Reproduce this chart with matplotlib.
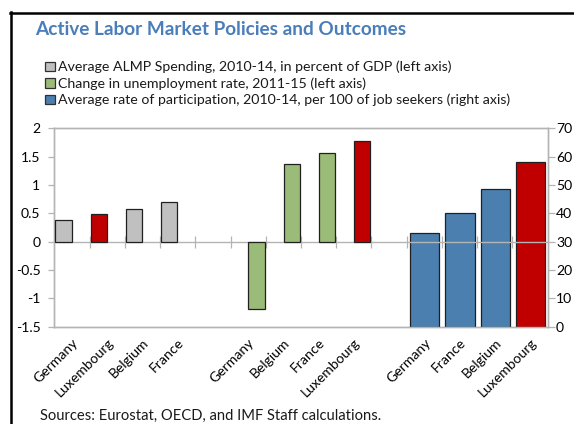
import matplotlib
matplotlib.use('Agg')
import matplotlib.pyplot as plt
from matplotlib.patches import Rectangle
from matplotlib.lines import Line2D
from matplotlib.ticker import FixedLocator, FixedFormatter

plt.rcParams['axes.unicode_minus'] = False
FONT = ['Lato', 'DejaVu Sans']
plt.rcParams['font.family'] = FONT

# ---------------- data ----------------
categories = ['Germany', 'Luxembourg', 'Belgium', 'France', '',
              'Germany', 'Belgium', 'France', 'Luxembourg', '',
              'Germany', 'France', 'Belgium', 'Luxembourg']
spending_idx = [0, 1, 2, 3]
spending = [0.38, 0.48, 0.57, 0.70]
unemp_idx = [5, 6, 7, 8]
unemp_change = [-1.19, 1.37, 1.57, 1.77]
partic_idx = [10, 11, 12, 13]
participation = [33.1, 40.1, 48.6, 58.1]
highlight = 'Luxembourg'

left_ticks = [-1.5, -1, -0.5, 0, 0.5, 1, 1.5, 2]
left_labels = ['-1.5', '-1', '-0.5', '0', '0.5', '1', '1.5', '2']
right_ticks = [0, 10, 20, 30, 40, 50, 60, 70]
right_labels = ['0', '10', '20', '30', '40', '50', '60', '70']

title = 'Active Labor Market Policies and Outcomes'
legend_labels = ['Average ALMP Spending, 2010-14, in percent of GDP (left axis)',
                 'Change in unemployment rate, 2011-15 (left axis)',
                 'Average rate of participation, 2010-14, per 100 of job seekers (right axis)']
source = 'Sources: Eurostat, OECD, and IMF Staff calculations.'

GREY = '#c0c0c0'
GREEN = '#9bbb78'
BLUE = '#4a7fb0'
RED = '#c00000'
AXCOL = '#b4b4b4'
TITLE_COL = '#4a7ebb'
series_colors = [GREY, GREEN, BLUE]

W, H = 574, 424
fig = plt.figure(figsize=(W / 100, H / 100), dpi=100)
renderer = fig.canvas.get_renderer()


def fit_size(text, target, weight='normal', base=10.0):
    t = fig.text(0, 0, text, fontsize=base, weight=weight)
    w = t.get_window_extent(renderer).width
    t.remove()
    return base * target / w


def fx(px):
    return px / W


def fy(py):
    return 1 - py / H


# plot area
x0, x1, ytop, ybot = 54.3, 547.7, 128.3, 326.7
ax = fig.add_axes([fx(x0), fy(ybot), fx(x1 - x0), (ybot - ytop) / H])
ax2 = ax.twinx()

n = len(categories)
ax.set_xlim(0, n)
ax.set_ylim(left_ticks[0], left_ticks[-1])
ax2.set_ylim(right_ticks[0], right_ticks[-1])


def col(i, base):
    return RED if categories[i] == highlight else base


ax.bar([i + 0.26 for i in spending_idx], spending, width=0.46,
       color=[col(i, GREY) for i in spending_idx], edgecolor='#202020', linewidth=0.9, zorder=3)
ax.bar([i + 0.74 for i in unemp_idx], unemp_change, width=0.46,
       color=[col(i, GREEN) for i in unemp_idx], edgecolor='#202020', linewidth=0.9, zorder=3)
ax2.bar([i + 0.51 for i in partic_idx], participation, width=0.83,
        color=[col(i, BLUE) for i in partic_idx], edgecolor='#202020', linewidth=0.9, zorder=3)

tick_fs = fit_size('Luxembourg', 72) * 1.07

# zero line (category axis) with boundary ticks
ax.axhline(0, color=AXCOL, linewidth=1.0, zorder=2)
zero_frac = (0 - left_ticks[0]) / (left_ticks[-1] - left_ticks[0])
sec = ax.secondary_xaxis(zero_frac)
sec.set_xticks(list(range(1, n)))
sec.tick_params(direction='inout', length=9, width=0.9, color=AXCOL, labelbottom=False, labeltop=False)
for s in sec.spines.values():
    s.set_visible(False)

# category labels along bottom
ax.set_xticks([i + 0.5 for i in range(n)])
ax.set_xticklabels(categories, rotation=45, ha='right', rotation_mode='anchor', fontsize=tick_fs)
ax.tick_params(axis='x', length=0, pad=7)

# left axis
ax.yaxis.set_major_locator(FixedLocator(left_ticks))
ax.yaxis.set_major_formatter(FixedFormatter(left_labels))
ax.tick_params(axis='y', direction='out', length=4, width=0.9, color=AXCOL, labelsize=tick_fs, pad=6)

# right axis
ax2.yaxis.set_major_locator(FixedLocator(right_ticks))
ax2.yaxis.set_major_formatter(FixedFormatter(right_labels))
ax2.tick_params(axis='y', direction='out', length=5, width=0.9, color=AXCOL, labelsize=tick_fs, pad=1)

for a in (ax, ax2):
    for s in a.spines.values():
        s.set_color(AXCOL)
        s.set_linewidth(1.0)
ax.set_zorder(ax2.get_zorder() + 1)
ax.patch.set_visible(False)

# title
fig.text(fx(35), fy(35), title, fontsize=fit_size(title, 373, 'bold'), weight='bold',
         color=TITLE_COL, va='baseline', ha='left')

# legend
leg_fs = fit_size(legend_labels[2], 454)
baselines = [71.0, 87.7, 104.3]
for lab, c, b in zip(legend_labels, series_colors, baselines):
    fig.patches.append(Rectangle((fx(45), fy(b)), fx(9.5), 9.3 / H, transform=fig.transFigure,
                                 facecolor=c, edgecolor='#303030', linewidth=0.9))
    fig.text(fx(57.5), fy(b), lab, fontsize=leg_fs, va='baseline', ha='left', color='#1a1a1a')

# source
fig.text(fx(40), fy(420), source, fontsize=fit_size(source, 340), va='baseline', ha='left',
         color='#1a1a1a')

# outer frame (black)
fig.lines.append(Line2D([fx(10.5), fx(10.5)], [fy(12), -0.1], transform=fig.transFigure,
                        color='black', linewidth=1.8))
fig.lines.append(Line2D([fx(9.6), 1.1], [fy(12.8), fy(12.8)], transform=fig.transFigure,
                        color='black', linewidth=1.8))

fig.savefig('out.png', dpi=100)
